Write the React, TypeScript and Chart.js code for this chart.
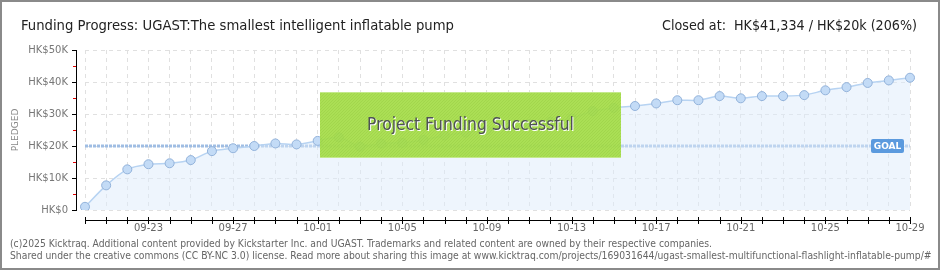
import React, { useEffect, useRef } from "react";
import { Chart, registerables } from "chart.js";

Chart.register(...registerables);

const dates = [
  "09-20","09-21","09-22","09-23","09-24","09-25","09-26","09-27","09-28","09-29","09-30",
  "10-01","10-02","10-03","10-04","10-05","10-06","10-07","10-08","10-09","10-10",
  "10-11","10-12","10-13","10-14","10-15","10-16","10-17","10-18","10-19","10-20",
  "10-21","10-22","10-23","10-24","10-25","10-26","10-27","10-28","10-29",
];
const pledged = [
  1000, 7700, 12700, 14300, 14600, 15600, 18400, 19300, 20000, 20800, 20500,
  21600, 22700, 19800, 20800, 21000, 21900, 23300, 24200, 25000, 25800,
  26900, 27600, 28600, 30900, 31900, 32500, 33300, 34300, 34300, 35600,
  34900, 35600, 35600, 35900, 37400, 38400, 39700, 40500, 41334,
];
const goal = 20000;
const yTicks = [0, 10000, 20000, 30000, 40000, 50000];
const titleLeft = "Funding Progress: UGAST:The smallest intelligent inflatable pump";
const titleRight = "Closed at:  HK$41,334 / HK$20k (206%)";
const banner = "Project Funding Successful";
const footer1 = "(c)2025 Kicktraq. Additional content provided by Kickstarter Inc. and UGAST. Trademarks and related content are owned by their respective companies.";
const footer2 = "Shared under the creative commons (CC BY-NC 3.0) license. Read more about sharing this image at www.kicktraq.com/projects/169031644/ugast-smallest-multifunctional-flashlight-inflatable-pump/#";

const COND = "'DejaVu Sans Condensed', 'DejaVu Sans', sans-serif";

function fitFont(ctx: CanvasRenderingContext2D, text: string, family: string, target: number, weight = "") {
  ctx.font = `${weight} 20px ${family}`;
  const w = ctx.measureText(text).width;
  const size = (20 * target) / w;
  ctx.font = `${weight} ${size.toFixed(2)}px ${family}`;
}

const decor = {
  id: "decor",
  beforeDraw(chart: any) {
    const { ctx, width, height } = chart;
    ctx.save();
    ctx.fillStyle = "#ffffff";
    ctx.fillRect(0, 0, width, height);
    ctx.restore();
  },
  beforeDatasetsDraw(chart: any) {
    const { ctx, chartArea } = chart;
    const y = chart.scales.y.getPixelForValue(goal);
    ctx.save();
    ctx.strokeStyle = "#9fbde3";
    ctx.lineWidth = 3;
    ctx.setLineDash([3, 1]);
    ctx.beginPath();
    ctx.moveTo(chartArea.left, y);
    ctx.lineTo(chartArea.right, y);
    ctx.stroke();
    ctx.restore();
  },
  afterDraw(chart: any) {
    const { ctx, chartArea, width, height } = chart;
    const xs = chart.scales.x;
    const ys = chart.scales.y;
    ctx.save();
    // axes
    const axX = chartArea.left - 9;
    ctx.strokeStyle = "#000";
    ctx.lineWidth = 1;
    ctx.beginPath();
    ctx.moveTo(axX + 0.5, ys.getPixelForValue(50000));
    ctx.lineTo(axX + 0.5, ys.getPixelForValue(0) + 1);
    ctx.stroke();
    yTicks.forEach((v) => {
      const py = Math.round(ys.getPixelForValue(v)) + 0.5;
      ctx.strokeStyle = "#000";
      ctx.beginPath();
      ctx.moveTo(axX - 4, py);
      ctx.lineTo(axX + 1, py);
      ctx.stroke();
      if (v < 50000) {
        const pm = Math.round(ys.getPixelForValue(v + 5000)) + 0.5;
        ctx.strokeStyle = "#e00000";
        ctx.beginPath();
        ctx.moveTo(axX - 3, pm);
        ctx.lineTo(axX, pm);
        ctx.stroke();
      }
    });
    const axY = chartArea.bottom + 10.5;
    ctx.strokeStyle = "#000";
    ctx.beginPath();
    ctx.moveTo(xs.getPixelForValue(0), axY);
    ctx.lineTo(xs.getPixelForValue(dates.length - 1), axY);
    ctx.stroke();
    dates.forEach((_, i) => {
      const px = Math.round(xs.getPixelForValue(i)) + 0.5;
      ctx.beginPath();
      ctx.moveTo(px, axY - 3.5);
      ctx.lineTo(px, axY + 3.5);
      ctx.stroke();
    });

    // goal label
    const gy = ys.getPixelForValue(goal);
    const gx = chartArea.right - 39;
    ctx.fillStyle = "#5b9ade";
    ctx.beginPath();
    (ctx as any).roundRect(gx, gy - 7, 33, 14, 2);
    ctx.fill();
    ctx.fillStyle = "#ffffff";
    ctx.font = "bold 9px 'DejaVu Sans'";
    ctx.textAlign = "center";
    ctx.textBaseline = "middle";
    ctx.fillText("GOAL", gx + 16.5, gy + 0.5);

    // banner
    const bx = 320, by = 92, bw = 301, bh = 66;
    ctx.fillStyle = "rgba(164,220,70,0.92)";
    ctx.fillRect(bx, by, bw, bh);
    ctx.save();
    ctx.beginPath();
    ctx.rect(bx, by, bw, bh);
    ctx.clip();
    ctx.strokeStyle = "rgba(120,180,40,0.18)";
    ctx.lineWidth = 1;
    for (let k = -bh; k < bw; k += 3) {
      ctx.beginPath();
      ctx.moveTo(bx + k, by + bh);
      ctx.lineTo(bx + k + bh, by);
      ctx.stroke();
    }
    ctx.restore();
    ctx.fillStyle = "#c4e98c";
    ctx.fillRect(bx, by, bw, 1);
    ctx.fillRect(bx, by + bh - 1, bw, 1);
    fitFont(ctx, banner, COND, 207);
    ctx.textAlign = "center";
    ctx.textBaseline = "middle";
    ctx.fillStyle = "#ffffff";
    ctx.fillText(banner, bx + bw / 2 + 1, by + bh / 2 + 2);
    ctx.fillStyle = "#4e5256";
    ctx.fillText(banner, bx + bw / 2, by + bh / 2 + 1);

    // headers
    ctx.textBaseline = "alphabetic";
    ctx.fillStyle = "#222";
    ctx.textAlign = "left";
    fitFont(ctx, titleLeft, COND, 433);
    ctx.fillText(titleLeft, 21, 30);
    ctx.textAlign = "right";
    fitFont(ctx, titleRight, COND, 255);
    ctx.fillText(titleRight, 917, 30);

    // footer
    ctx.fillStyle = "#666";
    ctx.textAlign = "left";
    fitFont(ctx, footer1, "'DejaVu Sans Condensed', 'DejaVu Sans', sans-serif", 702);
    ctx.fillText(footer1, 10, 247);
    ctx.fillText(footer2, 10, 259);

    // frame
    ctx.strokeStyle = "#8a8a8a";
    ctx.lineWidth = 2;
    ctx.strokeRect(1, 1, width - 2, height - 2);
    ctx.restore();
  },
};

export default function App() {
  const ref = useRef<HTMLCanvasElement>(null);
  useEffect(() => {
    document.body.style.margin = "0";
    const chart = new Chart(ref.current as HTMLCanvasElement, {
      type: "line",
      data: {
        labels: dates,
        datasets: [
          {
            data: pledged,
            borderColor: "#b7d3f2",
            borderWidth: 1.5,
            backgroundColor: "rgba(221,235,251,0.5)",
            fill: "origin",
            tension: 0.25,
            pointRadius: 4.5,
            pointBackgroundColor: "#c3dbf6",
            pointBorderColor: "#93b3db",
            pointBorderWidth: 1,
          },
        ],
      },
      options: {
        responsive: false,
        animation: false,
        layout: { padding: { left: 0, right: 30, top: 50, bottom: 0 } },
        plugins: { legend: { display: false }, tooltip: { enabled: false } },
        scales: {
          x: {
            offset: false,
            grid: { color: "#e0e0e0", drawTicks: false },
            border: { display: false, dash: [4, 4] },
            ticks: {
              autoSkip: false,
              maxRotation: 0,
              padding: 12,
              color: "#666",
              font: { family: "'DejaVu Sans'", size: 10 },
              callback: (_v: any, i: number) => (i % 4 === 3 ? dates[i] : ""),
            },
            afterFit: (s: any) => {
              s.height = 60;
            },
          },
          y: {
            min: 0,
            max: 50000,
            grid: { color: "#e0e0e0", drawTicks: false },
            border: { display: false, dash: [4, 4] },
            ticks: {
              stepSize: 10000,
              padding: 17,
              color: "#777",
              font: { family: "'DejaVu Sans'", size: 10 },
              callback: (v: any) => (v === 0 ? "HK$0" : "HK$" + v / 1000 + "K"),
            },
            title: {
              display: true,
              text: "PLEDGED",
              color: "#888",
              font: { family: "'DejaVu Sans'", size: 9 },
              padding: { top: 10, bottom: 0 },
            },
            afterFit: (s: any) => {
              s.width = 85;
            },
          },
        },
      },
      plugins: [decor],
    } as any);
    return () => chart.destroy();
  }, []);
  return <canvas ref={ref} width={940} height={270} style={{ display: "block" }} />;
}
